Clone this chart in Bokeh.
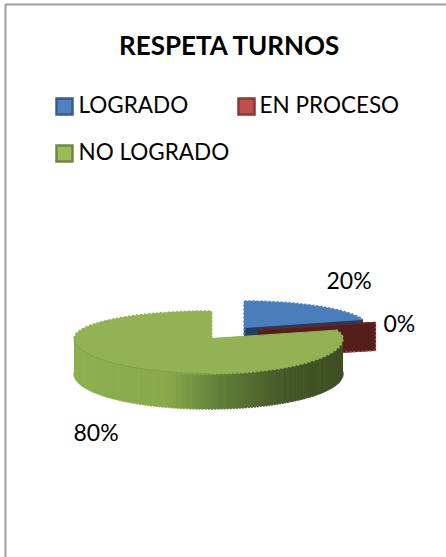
import numpy as np
from bokeh.core.properties import value
from bokeh.embed import file_html
from bokeh.models import Range1d
from bokeh.plotting import figure
from bokeh.resources import INLINE

# ---- chart data ----
title = "RESPETA TURNOS"
categories = ["LOGRADO", "EN PROCESO", "NO LOGRADO"]
shares = [20, 0, 80]
share_labels = ["20%", "0%", "80%"]

# ---- styles ----
FONT = "Lato"
top_colors = ["#4a7ebb", "#6b2420", "#92b254"]
cut_colors = ["#1f3d66", "#541e1a", "#5d7530"]
legend_fill = ["#4f81bd", "#c0504d", "#9bbb59"]
legend_edge = ["#385d8a", "#8c3836", "#71893f"]
TEXT_SHIFT = 9

# exploded slice geometry on the page: apex x/y, rim centre x, rx, back ry, front ry, depth
geometry = [
    dict(ax=244, ay=327, cx=244, rx=124, back=26, front=26, depth=30),
    dict(ax=258, ay=329, cx=257, rx=124, back=23, front=23, depth=28),
    dict(ax=211, ay=338, cx=208, rx=134, back=27, front=35, depth=35),
]
wall_stop_x = [77, 167, 217, 283, 337]
wall_stop_rgb = [(142, 176, 79), (138, 169, 76), (98, 128, 58), (70, 89, 42), (63, 80, 36)]

p = figure(width=446, height=557, output_backend="svg", toolbar_location=None,
           x_range=Range1d(0, 446), y_range=Range1d(557, 0),
           min_border=0, outline_line_color=None, background_fill_color="white")
p.axis.visible = False
p.grid.visible = False


def rim(g, a0, a1, n=120):
    t = np.radians(np.linspace(a0, a1, n))
    c = np.cos(t)
    x = g["cx"] + g["rx"] * np.sin(t)
    y = g["ay"] - np.where(c >= 0, g["back"], g["front"]) * c
    return x, y


edges = np.cumsum([0] + shares) * 3.6

# blue and red sit behind the green slice: cut face first, then the top surface
for i in (0, 1):
    g = geometry[i]
    a0, a1 = edges[i], edges[i + 1]
    ex, ey = rim(g, a1, a1, 1)
    p.patch([g["ax"], ex[0], ex[0], g["ax"]],
            [g["ay"], ey[0], ey[0] + g["depth"], g["ay"] + g["depth"]],
            fill_color=cut_colors[i], line_color=cut_colors[i], line_width=1)
    if i == 1:
        # speckled lighter edge of the dark red wall
        p.line([ex[0], ex[0], g["ax"]], [ey[0], ey[0] + g["depth"], g["ay"] + g["depth"]],
               line_color="#a8544f", line_width=1.5, line_dash="2 2")
    if a1 > a0:
        x, y = rim(g, a0, a1)
        xs = np.r_[g["ax"], x]
        ys = np.r_[g["ay"], y]
        p.patch(xs, ys, fill_color=top_colors[i], line_color=top_colors[i], line_width=1)
        p.line(x, y, line_color=top_colors[i], line_width=2.5, line_dash="2 2")
        p.line([g["ax"], x[0]], [g["ay"] + 7, y[0]], line_color=top_colors[i],
               line_width=2.5, line_dash="2 2")
    else:
        p.line([g["ax"], ex[0]], [g["ay"], ey[0]], line_color=top_colors[i], line_width=1.5)

# green slice: shaded outer wall, strip by strip
g = geometry[2]
a0, a1 = edges[2], edges[3]
x, y = rim(g, max(a0, 72), 272, 150)
for j in range(len(x) - 1):
    mx = (x[j] + x[j + 1]) / 2
    rgb = [int(np.interp(mx, wall_stop_x, [c[k] for c in wall_stop_rgb])) for k in range(3)]
    col = "#%02x%02x%02x" % tuple(rgb)
    p.patch([x[j], x[j + 1], x[j + 1], x[j]],
            [y[j], y[j + 1], y[j + 1] + g["depth"], y[j] + g["depth"]],
            fill_color=col, line_color=col, line_width=1)
    p.line([x[j], x[j + 1]], [y[j] + g["depth"], y[j + 1] + g["depth"]],
           line_color=col, line_width=2.5, line_dash="2 2")

# green top surface
x, y = rim(g, a0, a1, 200)
x = np.r_[x, g["ax"]]
y = np.r_[y, y[-1]]
p.patch(np.r_[g["ax"], x], np.r_[g["ay"], y], fill_color=top_colors[2],
        line_color=top_colors[2], line_width=1)
p.line(x, y, line_color=top_colors[2], line_width=2.5, line_dash="2 2")
p.line([g["ax"], g["ax"]], [g["ay"], y[-1]], line_color=top_colors[2], line_width=2, line_dash="2 2")
sx, sy = rim(g, 180, 272, 60)
p.line(sx, sy, line_color="#7f9d47", line_width=1)

# frame of the original chart
p.line([446, 5, 5], [4, 4, 557], line_color="#a0a0a0", line_width=2)

# title
p.text([229.5], [53 - TEXT_SHIFT], text=[title], text_font=value(FONT), text_font_style="bold",
       text_font_size="26px", text_align="center", text_baseline="alphabetic",
       text_color="#000000")

# legend
legend_x = [55, 237, 55]
legend_y = [97, 97, 144]
label_x = [78, 259, 78]
for i, name in enumerate(categories):
    p.quad(left=[legend_x[i] + 1], right=[legend_x[i] + 17], top=[legend_y[i] + 1],
           bottom=[legend_y[i] + 17], fill_color=legend_fill[i],
           line_color=legend_edge[i], line_width=2.5, line_join="miter")
    p.text([label_x[i]], [legend_y[i] + 15.5 - TEXT_SHIFT], text=[name], text_font=value(FONT),
           text_font_size="22.5px", text_align="left", text_baseline="alphabetic",
           text_color="#000000")

# data labels
data_label_x = [326, 383, 73]
data_label_y = [288 - TEXT_SHIFT, 331 - TEXT_SHIFT, 440 - TEXT_SHIFT]
p.text(data_label_x, data_label_y, text=share_labels, text_font=value(FONT),
       text_font_size="23px", text_align="left", text_baseline="alphabetic",
       text_color="#000000")

open("out.html", "w").write(file_html(p, INLINE))
